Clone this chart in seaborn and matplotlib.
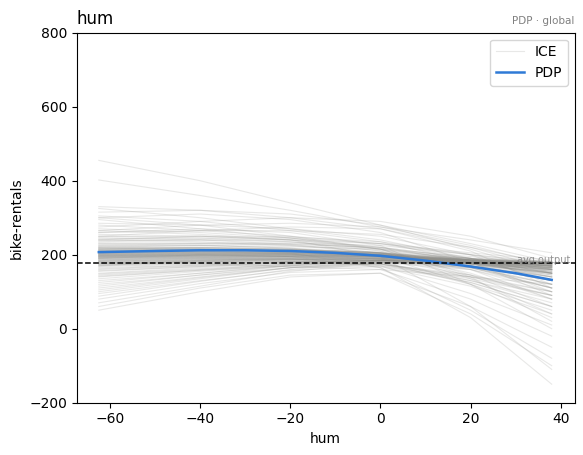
import numpy as np
import pandas as pd
import matplotlib
matplotlib.use("Agg")
import matplotlib.pyplot as plt
import matplotlib.transforms as mtransforms
from matplotlib.lines import Line2D
import seaborn as sns

ice_x = [-62.5, -40, -20, 0, 20, 38]
ice_curves = [
    [455, 400, 340, 280, 215, 150], [402, 360, 320, 275, 225, 170],
    [330, 320, 300, 270, 220, 160], [325, 300, 270, 240, 190, 130],
    [315, 320, 310, 280, 230, 180], [305, 290, 265, 235, 180, 100],
    [300, 310, 295, 260, 180, 90], [295, 270, 245, 220, 180, 140],
    [285, 280, 270, 250, 200, 120], [280, 265, 250, 230, 190, 150],
    [275, 290, 300, 290, 250, 190], [270, 260, 245, 215, 145, 60],
    [265, 255, 240, 220, 190, 160], [260, 265, 265, 255, 220, 175],
    [255, 250, 240, 215, 140, 20], [250, 245, 235, 215, 185, 150],
    [248, 250, 248, 235, 200, 160], [245, 240, 228, 205, 150, 80],
    [242, 245, 245, 230, 200, 175], [240, 235, 225, 205, 170, 130],
    [238, 240, 240, 230, 205, 185], [235, 240, 235, 210, 135, 40],
    [232, 230, 225, 212, 190, 170], [230, 232, 230, 218, 185, 140],
    [228, 225, 218, 205, 180, 160], [225, 230, 232, 225, 200, 180],
    [224, 226, 218, 195, 120, 30], [222, 220, 215, 205, 185, 170],
    [220, 225, 228, 220, 190, 150], [218, 215, 210, 200, 180, 165],
    [216, 220, 222, 215, 195, 175], [215, 218, 215, 200, 160, 100],
    [213, 212, 210, 202, 185, 172], [212, 215, 215, 205, 170, 110],
    [210, 212, 212, 205, 190, 178], [209, 210, 202, 180, 120, 50],
    [208, 210, 210, 204, 188, 175], [207, 208, 206, 198, 180, 165],
    [206, 210, 212, 208, 190, 168], [205, 206, 205, 200, 175, 130],
    [204, 205, 203, 197, 185, 178], [203, 207, 208, 202, 180, 145],
    [202, 203, 200, 188, 145, 90], [201, 203, 203, 199, 186, 176],
    [200, 202, 203, 200, 190, 182], [199, 200, 195, 180, 130, 70],
    [198, 200, 200, 196, 184, 174], [197, 200, 202, 198, 182, 160],
    [196, 197, 196, 190, 170, 140], [195, 198, 200, 197, 187, 180],
    [194, 195, 194, 188, 160, 110], [193, 196, 197, 194, 183, 175],
    [192, 194, 195, 192, 178, 150], [191, 192, 188, 175, 125, 60],
    [190, 193, 195, 193, 185, 178], [188, 190, 190, 186, 175, 165],
    [186, 190, 193, 190, 165, 120], [185, 187, 188, 185, 178, 172],
    [183, 186, 188, 185, 170, 140], [182, 185, 188, 190, 185, 180],
    [180, 183, 183, 175, 140, 100], [178, 182, 185, 185, 178, 170],
    [176, 180, 183, 182, 170, 155], [175, 180, 186, 188, 180, 165],
    [172, 178, 180, 172, 130, 80], [170, 176, 182, 185, 182, 176],
    [168, 175, 182, 185, 175, 150], [165, 172, 180, 183, 175, 160],
    [162, 172, 182, 186, 180, 172], [160, 170, 178, 175, 135, 90],
    [157, 168, 178, 184, 180, 175], [155, 168, 180, 185, 170, 130],
    [150, 165, 178, 185, 182, 178], [148, 162, 175, 180, 165, 120],
    [145, 160, 175, 185, 185, 180], [142, 158, 170, 175, 145, 100],
    [140, 158, 175, 185, 180, 170], [135, 155, 172, 182, 175, 150],
    [130, 150, 170, 182, 170, 120], [125, 150, 172, 185, 180, 165],
    [120, 145, 165, 170, 125, 60], [115, 145, 170, 185, 175, 140],
    [110, 140, 165, 175, 140, 90], [105, 138, 165, 180, 175, 160],
    [100, 135, 165, 182, 170, 130], [95, 130, 158, 168, 115, 40],
    [88, 128, 160, 180, 165, 110], [80, 122, 152, 160, 80, -20],
    [70, 115, 155, 178, 160, 80], [60, 110, 145, 150, 40, -100],
    [50, 100, 140, 150, 60, -50], [210, 215, 205, 165, 30, -150],
    [240, 250, 240, 195, 60, -110], [190, 200, 195, 165, 50, -80],
    [260, 270, 260, 225, 120, 0], [170, 185, 190, 170, 95, 10],
    [250, 265, 275, 270, 210, 110], [180, 175, 168, 160, 140, 120],
    [300, 280, 250, 215, 165, 110], [265, 280, 285, 275, 240, 205],
    [205, 207, 207, 201, 185, 168], [203, 205, 205, 199, 180, 160],
    [201, 204, 205, 200, 186, 170], [199, 202, 202, 197, 182, 165],
    [197, 199, 199, 194, 178, 158], [206, 208, 207, 200, 182, 162],
    [210, 211, 209, 201, 180, 155], [212, 213, 211, 203, 184, 165],
    [214, 215, 213, 205, 186, 168], [196, 199, 200, 196, 183, 170],
    [194, 197, 198, 195, 184, 174], [192, 196, 198, 196, 186, 178],
    [190, 194, 197, 196, 188, 182], [188, 192, 195, 194, 185, 176],
    [186, 191, 195, 195, 187, 180], [208, 209, 207, 199, 178, 150],
    [204, 206, 205, 198, 176, 145], [200, 203, 203, 197, 178, 152],
    [198, 201, 201, 195, 175, 148], [195, 198, 199, 194, 176, 150],
    [216, 216, 212, 202, 180, 155], [218, 218, 214, 204, 184, 162],
    [220, 219, 215, 205, 186, 168], [184, 189, 193, 192, 182, 168],
    [182, 188, 192, 192, 180, 160], [180, 186, 190, 190, 178, 158],
    [178, 184, 189, 190, 181, 170], [176, 183, 188, 189, 183, 176],
    [174, 181, 187, 189, 184, 180], [172, 180, 186, 188, 182, 172],
]

pdp_x = [-62.5, -50, -40, -30, -20, -10, 0, 10, 20, 30, 38]
pdp_y = [207, 210, 212, 212, 210, 205, 197, 184, 168, 150, 132]

avg_output = 177

ice_df = pd.DataFrame(
    [(i, x, y) for i, curve in enumerate(ice_curves) for x, y in zip(ice_x, curve)],
    columns=["id", "hum", "pred"],
)
pdp_df = pd.DataFrame({"hum": pdp_x, "pred": pdp_y})

ice_color = "#8f8f8a"
pdp_color = "#2f7ad6"

fig = plt.figure(figsize=(5.83, 4.55), dpi=100)
ax = fig.add_axes([0.1316, 0.115, 0.8541, 0.813])

sns.lineplot(data=ice_df, x="hum", y="pred", units="id", estimator=None,
             color=ice_color, alpha=0.2, lw=0.8, ax=ax, legend=False)
sns.lineplot(data=pdp_df, x="hum", y="pred", color=pdp_color, lw=1.8,
             ax=ax, legend=False)

ax.axhline(avg_output, color="black", ls="--", lw=1.1)
trans = mtransforms.blended_transform_factory(ax.transAxes, ax.transData)
ax.text(0.991, avg_output - 4, "avg output", transform=trans, ha="right",
        va="bottom", fontsize=7, color="gray", alpha=0.85)

ax.set_xlim(-67.4, 43.1)
ax.set_ylim(-200, 800)
ax.set_xticks([-60, -40, -20, 0, 20, 40])
ax.set_xlabel("hum")
ax.set_ylabel("bike-rentals")
ax.set_title("hum", loc="left", fontsize=12)
ax.set_title("PDP · global", loc="right", fontsize=7.5, color="gray")

handles = [Line2D([], [], color=ice_color, alpha=0.2, lw=0.8),
           Line2D([], [], color=pdp_color, lw=1.8)]
ax.legend(handles, ["ICE", "PDP"], loc="upper right")

fig.savefig("out.png", dpi=100)
